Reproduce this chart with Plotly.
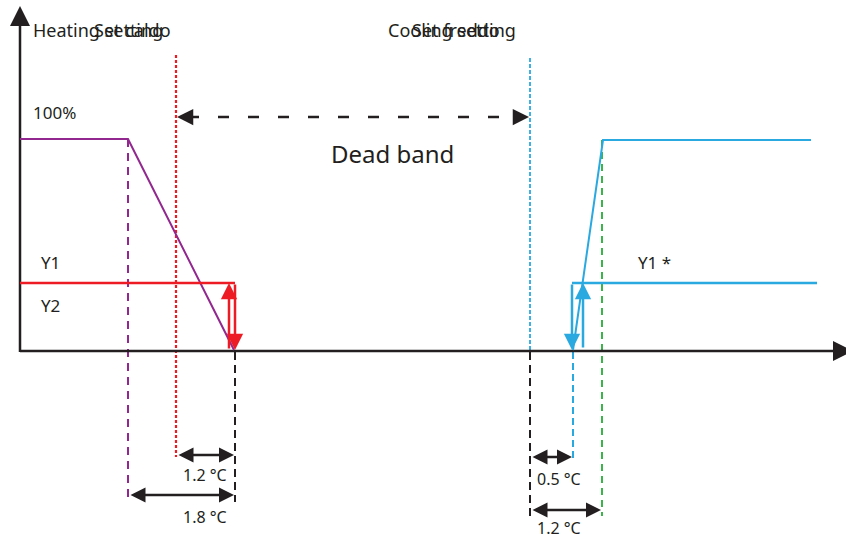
import plotly.graph_objects as go

# Diagram coordinates (schematic units, y grows downward)
axis_x0, axis_y0 = 20, 351
axis_x_end, axis_y_top = 853, 6

heat_x = [20, 128, 234]
heat_y = [139, 139, 350]

y1_heat_x = [20, 235]
y1_heat_y = [283, 283]

cool_x = [573, 603, 811]
cool_y = [350, 140, 140]

y1_cool_x = [572, 817]
y1_cool_y = [283, 283]

set_heat_x = 176
set_cool_x = 530
heat_start_x = 128
heat_end_x = 235
cool_stage_x = 572
cool_full_x = 602

PURPLE = "#92278F"
RED = "#ED1C24"
CYAN = "#29A9E0"
GREEN = "#39B54A"
BLACK = "#231F20"
FONT = "Noto Sans"

fig = go.Figure()


def line(xs, ys, color, width=2, dash="solid"):
    fig.add_trace(go.Scatter(x=xs, y=ys, mode="lines", hoverinfo="skip",
                             line=dict(color=color, width=width, dash=dash)))


def arrow(x0, y0, x1, y1, color, width=2, size=1.2, both=False):
    fig.add_annotation(x=x1, y=y1, ax=x0, ay=y0, xref="x", yref="y",
                       axref="x", ayref="y", text="", showarrow=True,
                       arrowhead=2, arrowsize=size, arrowwidth=width,
                       arrowcolor=color, standoff=0, startstandoff=0,
                       startarrowhead=2, startarrowsize=size,
                       arrowside="end+start" if both else "end")


def label(x, y, text, size=15, anchor="left"):
    fig.add_annotation(x=x, y=y, text=text, showarrow=False, xanchor=anchor,
                       yanchor="middle", font=dict(family=FONT, size=size, color=BLACK))


# vertical guides
line([set_heat_x, set_heat_x], [55, 457], RED, 2.2, "3px,2px")
line([heat_start_x, heat_start_x], [139, 497], PURPLE, 2, "8px,6px")
line([heat_end_x, heat_end_x], [352, 502], BLACK, 2, "8px,5px")
line([set_cool_x, set_cool_x], [58, 350], CYAN, 1.8, "4px,2px")
line([set_cool_x, set_cool_x], [352, 516], BLACK, 2, "8px,5px")
line([cool_stage_x + 1, cool_stage_x + 1], [352, 458], CYAN, 2, "7px,4px")
line([cool_full_x, cool_full_x], [140, 516], GREEN, 2, "7px,5px")

# axes
line([axis_x0, axis_x_end - 12], [axis_y0, axis_y0], BLACK, 2.5)
line([axis_x0, axis_x0], [axis_y0 + 1, axis_y_top + 12], BLACK, 2.5)
arrow(axis_x_end - 14, axis_y0, axis_x_end, axis_y0, BLACK, 2.5, 1.6)
arrow(axis_x0, axis_y_top + 20, axis_x0, axis_y_top, BLACK, 2.5, 1.6)

# heating curves
line(heat_x, heat_y, PURPLE, 2)
line(y1_heat_x, y1_heat_y, RED, 2.5)
arrow(heat_end_x, 283, heat_end_x, 350, RED, 2.5, 1.3)
arrow(229, 350, 229, 283, RED, 2.5, 1.3)

# cooling curves
line(cool_x, cool_y, CYAN, 2)
line(y1_cool_x, y1_cool_y, CYAN, 2.5)
arrow(cool_stage_x, 283, cool_stage_x, 350, CYAN, 2.5, 1.3)
arrow(583, 349, 583, 283, CYAN, 2.5, 1.3)

# dead band
line([188, 518], [117, 117], BLACK, 2.5, "11px,19px")
arrow(190, 117, set_heat_x + 1, 117, BLACK, 2.5, 1.3)
arrow(515, 117, set_cool_x - 1, 117, BLACK, 2.5, 1.3)
label(392, 153, "Dead band", 24, "center")

# dimension arrows
arrow(set_heat_x + 1, 455, heat_end_x - 1, 455, BLACK, 2.5, 1.2, both=True)
arrow(heat_start_x + 1, 495, heat_end_x - 1, 495, BLACK, 2.5, 1.2, both=True)
arrow(set_cool_x + 1, 457, cool_stage_x, 457, BLACK, 2.5, 1.2, both=True)
arrow(set_cool_x + 1, 510, cool_full_x - 1, 510, BLACK, 2.5, 1.2, both=True)
label(205, 475, "1.2 °C", 16, "center")
label(205, 517, "1.8 °C", 16, "center")
label(559, 479, "0.5 °C", 16, "center")
label(559, 528, "1.2 °C", 16, "center")

# texts
label(31, 30, "Heating setting", 18)
label(92, 30, "Set caldo", 18)
label(386, 30, "Cooling setting", 18)
label(410, 30, "Set freddo", 18)
label(31, 112, "100%", 17)
label(39, 262, "Y1", 17)
label(39, 305, "Y2", 17)
label(636, 262, "Y1 *", 17)

fig.update_layout(
    width=846, height=543,
    margin=dict(l=0, r=0, t=0, b=0),
    paper_bgcolor="white", plot_bgcolor="white",
    showlegend=False,
    xaxis=dict(range=[0, 846], visible=False, fixedrange=True),
    yaxis=dict(range=[543, 0], visible=False, fixedrange=True),
)

fig.write_html("out.html", config={"displayModeBar": False},
               post_script="document.body.style.margin='0';")
